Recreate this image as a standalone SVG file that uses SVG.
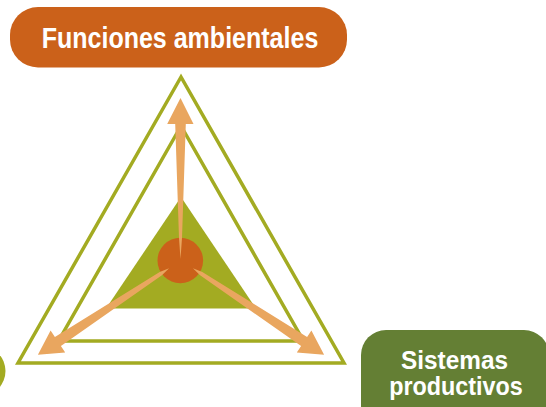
<svg xmlns="http://www.w3.org/2000/svg" width="546" height="407" viewBox="0 0 546 407">
  <style>
    .lbl { font-family: "Liberation Sans Narrow", "Liberation Sans", Arial, sans-serif; font-weight: bold; fill: #ffffff; text-anchor: middle; }
    .tri { fill: none; stroke: #A3AB22; stroke-width: 3.5; stroke-linejoin: miter; }
    .arrow { fill: #E9A65F; }
  </style>
  <rect width="546" height="407" fill="#ffffff"/>

  <g id="node-funciones">
    <rect x="10" y="7" width="337" height="60.5" rx="28" ry="28" fill="#CB611A"/>
    <text class="lbl" x="180" y="48.3" font-size="29" textLength="276.6" lengthAdjust="spacingAndGlyphs">Funciones ambientales</text>
  </g>

  <g id="node-sistemas">
    <rect x="361" y="330" width="188" height="100" rx="25" ry="25" fill="#647F34"/>
    <text class="lbl" x="454.5" y="368.5" font-size="25.5" textLength="107" lengthAdjust="spacingAndGlyphs">Sistemas</text>
    <text class="lbl" x="456" y="395" font-size="25.5" textLength="133.7" lengthAdjust="spacingAndGlyphs">productivos</text>
  </g>

  <g id="node-left">
    <rect x="-200" y="346" width="205.5" height="50" rx="25" ry="25" fill="#A3AB22"/>
  </g>

  <g id="center">
    <polygon class="tri" points="181,77 18,363 344,363"/>
    <polygon class="tri" points="181,126 58.5,341 303.5,341"/>
    <polygon points="181,197 106,308.5 256,308.5" fill="#A3AB22"/>
    <circle cx="180.3" cy="260.5" r="22.8" fill="#CB611A"/>
  </g>

  <g id="connectors">
    <polygon class="arrow" points="180.5,98 193.5,124 185.8,124 182,238 180.5,259 179,238 175.2,124 167.2,124"/>
    <polygon id="arrow-left" class="arrow" points="37.9,354.7 50.6,330.4 54.9,336.9 159.7,271.9 169.1,268.2 161.9,275.3 60.9,346.1 65.2,352.6"/>
    <polygon class="arrow" transform="matrix(-1 0 0 1 362 0)" points="37.9,354.7 50.6,330.4 54.9,336.9 159.7,271.9 169.1,268.2 161.9,275.3 60.9,346.1 65.2,352.6"/>
  </g>
</svg>
